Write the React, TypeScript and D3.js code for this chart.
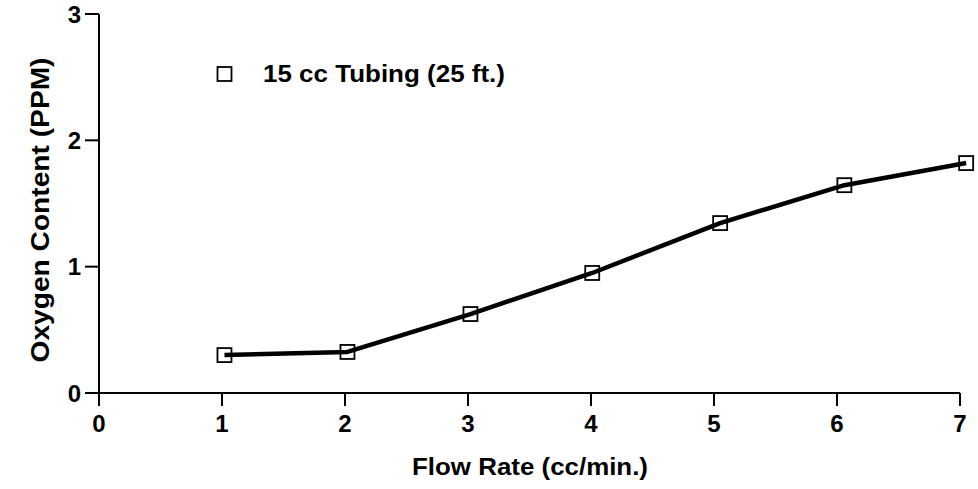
import React from "react";
import * as d3 from "d3";

const flowRate = [1.02, 2.02, 3.02, 4.01, 5.05, 6.06, 7.05];
const oxygen = [0.3, 0.325, 0.625, 0.95, 1.345, 1.645, 1.82];
const xTicks = [0, 1, 2, 3, 4, 5, 6, 7];
const yTicks = [0, 1, 2, 3];
const seriesName = "15 cc Tubing (25 ft.)";
const xTitle = "Flow Rate (cc/min.)";
const yTitle = "Oxygen Content (PPM)";

const W = 978;
const H = 489;
const FONT = "'Liberation Sans', Arial, Helvetica, sans-serif";

export default function App() {
  const x = d3.scaleLinear().domain([0, 7]).range([99, 960]);
  const y = d3.scaleLinear().domain([0, 3]).range([393, 14]);
  const pts = flowRate.map((v, i) => [v, oxygen[i]] as [number, number]);
  const line = d3
    .line<[number, number]>()
    .x((d) => x(d[0]))
    .y((d) => y(d[1]))
    .curve(d3.curveLinear);
  const ms = 14;
  return (
    <svg
      width={W}
      height={H}
      style={{ position: "absolute", left: 0, top: 0, background: "#fff" }}
      fontFamily={FONT}
      fontWeight="bold"
    >
      <rect x={0} y={0} width={W} height={H} fill="#fff" />
      {/* axes */}
      <line x1={x(0)} x2={x(0)} y1={y(3)} y2={y(0)} stroke="#000" strokeWidth={2} />
      <line x1={x(0) - 14} x2={x(7)} y1={y(0)} y2={y(0)} stroke="#000" strokeWidth={2} />
      {xTicks.map((t) => (
        <g key={"xt" + t}>
          <line x1={x(t)} x2={x(t)} y1={y(0)} y2={y(0) + 13} stroke="#000" strokeWidth={2} />
          <text x={x(t)} y={432} textAnchor="middle" fontSize={24} fill="#000">
            {t}
          </text>
        </g>
      ))}
      {yTicks.map((t) => (
        <g key={"yt" + t}>
          <line x1={x(0) - 14} x2={x(0)} y1={y(t)} y2={y(t)} stroke="#000" strokeWidth={2} />
          <text x={81} y={y(t) + 8.5} textAnchor="end" fontSize={24} fill="#000">
            {t}
          </text>
        </g>
      ))}
      {/* titles */}
      <text
        x={530}
        y={475}
        textAnchor="middle"
        fontSize={24}
        fill="#000"
        textLength={236}
        lengthAdjust="spacingAndGlyphs"
      >
        {xTitle}
      </text>
      <text
        transform={`translate(49,210) rotate(-90)`}
        textAnchor="middle"
        fontSize={25}
        fill="#000"
        textLength={305}
        lengthAdjust="spacingAndGlyphs"
      >
        {yTitle}
      </text>
      {/* legend */}
      <rect x={217.5} y={67} width={ms} height={ms} fill="#fff" stroke="#000" strokeWidth={1.8} />
      <text
        x={263}
        y={82}
        fontSize={24}
        fill="#000"
        textLength={242}
        lengthAdjust="spacingAndGlyphs"
      >
        {seriesName}
      </text>
      {/* markers */}
      {pts.map((d, i) => (
        <rect
          key={"m" + i}
          x={x(d[0]) - ms / 2}
          y={y(d[1]) - ms / 2}
          width={ms}
          height={ms}
          fill="#fff"
          stroke="#000"
          strokeWidth={1.8}
        />
      ))}
      <path d={line(pts) || ""} fill="none" stroke="#000" strokeWidth={4.5} strokeLinejoin="round" />
    </svg>
  );
}
